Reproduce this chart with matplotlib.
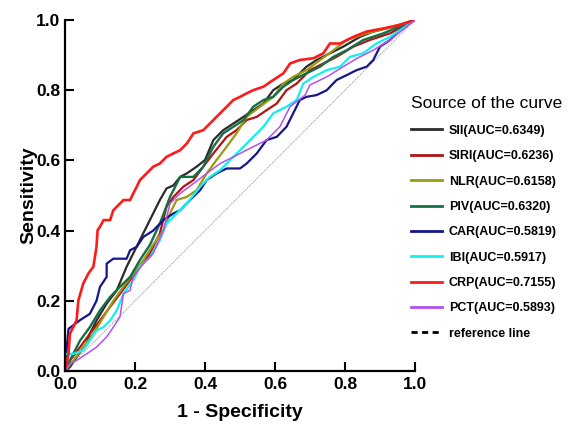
import matplotlib
matplotlib.use("Agg")
import matplotlib.pyplot as plt
from matplotlib.lines import Line2D

# ROC points (1 - specificity, sensitivity)
SII_FPR = [0, 0.014, 0.033, 0.062, 0.071, 0.09, 0.119, 0.148, 0.176, 0.195,
           0.214, 0.233, 0.252, 0.271, 0.29, 0.31, 0.329, 0.348, 0.376, 0.4,
           0.424, 0.452, 0.481, 0.51, 0.538, 0.567, 0.595, 0.624, 0.652, 0.69,
           0.719, 0.757, 0.795, 0.843, 0.881, 0.938, 1.0]
SII_TPR = [0, 0.011, 0.04, 0.078, 0.106, 0.144, 0.192, 0.23, 0.297, 0.335,
           0.373, 0.411, 0.449, 0.487, 0.52, 0.529, 0.553, 0.563, 0.582, 0.601,
           0.658, 0.686, 0.705, 0.724, 0.743, 0.762, 0.80, 0.819, 0.829, 0.867,
           0.886, 0.905, 0.924, 0.952, 0.967, 0.981, 1.0]

SIRI_FPR = [0, 0.014, 0.043, 0.071, 0.1, 0.129, 0.157, 0.186, 0.214, 0.243,
            0.271, 0.29, 0.31, 0.338, 0.367, 0.395, 0.424, 0.462, 0.49, 0.519,
            0.548, 0.576, 0.605, 0.633, 0.662, 0.7, 0.738, 0.776, 0.824, 0.871,
            0.929, 1.0]
SIRI_TPR = [0, 0.03, 0.068, 0.106, 0.144, 0.183, 0.22, 0.259, 0.297, 0.335,
            0.392, 0.468, 0.496, 0.525, 0.544, 0.582, 0.62, 0.667, 0.686, 0.715,
            0.724, 0.743, 0.762, 0.80, 0.819, 0.857, 0.876, 0.895, 0.924, 0.943,
            0.962, 1.0]

NLR_FPR = [0, 0.024, 0.052, 0.081, 0.11, 0.138, 0.167, 0.195, 0.224, 0.252,
           0.281, 0.3, 0.319, 0.348, 0.376, 0.405, 0.433, 0.462, 0.49, 0.519,
           0.557, 0.595, 0.624, 0.652, 0.69, 0.729, 0.767, 0.805, 0.862, 0.938,
           1.0]
NLR_TPR = [0, 0.03, 0.068, 0.106, 0.154, 0.2, 0.24, 0.278, 0.316, 0.36,
           0.40, 0.449, 0.487, 0.496, 0.515, 0.563, 0.601, 0.639, 0.677, 0.724,
           0.753, 0.781, 0.819, 0.838, 0.857, 0.886, 0.914, 0.943, 0.962, 0.981,
           1.0]

PIV_FPR = [0, 0.019, 0.043, 0.071, 0.1, 0.129, 0.157, 0.186, 0.214, 0.243,
           0.271, 0.3, 0.329, 0.367, 0.395, 0.424, 0.452, 0.481, 0.51, 0.538,
           0.567, 0.595, 0.624, 0.652, 0.69, 0.729, 0.767, 0.805, 0.852, 0.91,
           1.0]
PIV_TPR = [0, 0.04, 0.087, 0.125, 0.173, 0.211, 0.24, 0.268, 0.316, 0.36,
           0.42, 0.496, 0.553, 0.553, 0.582, 0.639, 0.677, 0.696, 0.715, 0.753,
           0.772, 0.781, 0.81, 0.829, 0.848, 0.867, 0.895, 0.914, 0.943, 0.962,
           1.0]

CAR_FPR = [0, 0.005, 0.01, 0.043, 0.071, 0.09, 0.1, 0.119, 0.119, 0.138,
           0.176, 0.186, 0.205, 0.224, 0.252, 0.281, 0.31, 0.329, 0.357, 0.386,
           0.405, 0.433, 0.462, 0.5, 0.519, 0.548, 0.576, 0.605, 0.633, 0.652,
           0.671, 0.69, 0.719, 0.748, 0.776, 0.805, 0.833, 0.862, 0.881, 0.9,
           0.929, 0.957, 1.0]
CAR_TPR = [0, 0.068, 0.12, 0.145, 0.163, 0.2, 0.24, 0.268, 0.306, 0.32,
           0.32, 0.344, 0.354, 0.382, 0.40, 0.43, 0.449, 0.458, 0.487, 0.515,
           0.544, 0.563, 0.577, 0.577, 0.591, 0.62, 0.658, 0.667, 0.696, 0.734,
           0.772, 0.781, 0.786, 0.80, 0.829, 0.843, 0.857, 0.867, 0.886, 0.924,
           0.943, 0.971, 1.0]

IBI_FPR = [0, 0, 0.024, 0.052, 0.071, 0.09, 0.11, 0.129, 0.148, 0.167,
           0.195, 0.214, 0.243, 0.271, 0.29, 0.319, 0.348, 0.386, 0.414, 0.443,
           0.481, 0.51, 0.538, 0.567, 0.595, 0.633, 0.662, 0.681, 0.71, 0.748,
           0.786, 0.814, 0.852, 0.89, 0.929, 1.0]
IBI_TPR = [0, 0.049, 0.049, 0.059, 0.087, 0.116, 0.125, 0.144, 0.173, 0.22,
           0.259, 0.297, 0.325, 0.373, 0.42, 0.449, 0.477, 0.525, 0.553, 0.572,
           0.61, 0.639, 0.667, 0.696, 0.734, 0.753, 0.772, 0.819, 0.838, 0.857,
           0.867, 0.895, 0.905, 0.933, 0.952, 1.0]

CRP_FPR = [0, 0.01, 0.014, 0.033, 0.038, 0.052, 0.067, 0.081, 0.090, 0.093,
           0.10, 0.11, 0.129, 0.138, 0.148, 0.167, 0.186, 0.195, 0.205, 0.214,
           0.233, 0.252, 0.271, 0.29, 0.31, 0.329, 0.348, 0.367, 0.395, 0.414,
           0.443, 0.462, 0.481, 0.5, 0.519, 0.538, 0.567, 0.595, 0.624, 0.643,
           0.671, 0.71, 0.738, 0.757, 0.786, 0.824, 0.862, 0.91, 0.957, 1.0]
CRP_TPR = [0, 0.049, 0.106, 0.144, 0.2, 0.249, 0.278, 0.297, 0.354, 0.401,
           0.411, 0.43, 0.43, 0.458, 0.468, 0.487, 0.487, 0.506, 0.525, 0.544,
           0.563, 0.582, 0.591, 0.61, 0.62, 0.629, 0.648, 0.677, 0.686, 0.705,
           0.734, 0.753, 0.772, 0.781, 0.791, 0.80, 0.81, 0.829, 0.848, 0.876,
           0.886, 0.891, 0.905, 0.933, 0.933, 0.952, 0.967, 0.976, 0.986, 1.0]

PCT_FPR = [0, 0.014, 0.033, 0.062, 0.09, 0.1, 0.119, 0.138, 0.157, 0.167,
           0.186, 0.195, 0.224, 0.252, 0.281, 0.3, 0.329, 0.367, 0.405, 0.443,
           0.481, 0.538, 0.576, 0.614, 0.643, 0.686, 0.7, 0.748, 0.795, 0.833,
           0.881, 0.929, 1.0]
PCT_TPR = [0, 0.021, 0.03, 0.049, 0.068, 0.078, 0.097, 0.125, 0.154, 0.22,
           0.23, 0.268, 0.306, 0.335, 0.401, 0.477, 0.506, 0.534, 0.563, 0.591,
           0.61, 0.639, 0.658, 0.696, 0.753, 0.786, 0.815, 0.838, 0.867, 0.89,
           0.914, 0.943, 1.0]

LABELS = ["SII(AUC=0.6349)", "SIRI(AUC=0.6236)", "NLR(AUC=0.6158)",
          "PIV(AUC=0.6320)", "CAR(AUC=0.5819)", "IBI(AUC=0.5917)",
          "CRP(AUC=0.7155)", "PCT(AUC=0.5893)"]
COLORS = ["#2b2b2b", "#b01414", "#9c9a10", "#137045",
          "#15158c", "#12f0f0", "#ff1a1a", "#b450f0"]
WIDTHS = [1.6, 1.6, 1.6, 1.7, 1.6, 1.6, 1.9, 1.1]
TICKS = [0.0, 0.2, 0.4, 0.6, 0.8, 1.0]

plt.rcParams["font.family"] = ["Liberation Sans", "DejaVu Sans"]

fig = plt.figure(figsize=(5.82, 4.25), dpi=100)
ax = fig.add_axes([0.1117, 0.127, 0.6013, 0.826])

curves = [(SII_FPR, SII_TPR), (SIRI_FPR, SIRI_TPR), (NLR_FPR, NLR_TPR),
          (PIV_FPR, PIV_TPR), (CAR_FPR, CAR_TPR), (IBI_FPR, IBI_TPR),
          (CRP_FPR, CRP_TPR), (PCT_FPR, PCT_TPR)]

# diagonal reference line
ax.plot([0, 1], [0, 1], color="#9a9a9a", linestyle=(0, (1, 1)), linewidth=0.8, zorder=1)

handles = []
for (fpr, tpr), label, color, lw in zip(curves, LABELS, COLORS, WIDTHS):
    ax.plot(fpr, tpr, color=color, linewidth=lw, zorder=2)
    handles.append(Line2D([], [], color=color, linewidth=2.0, label=label))
handles.append(Line2D([], [], color="black", linewidth=2.0, linestyle=(0, (2.2, 1.6)),
                      label="reference line"))

ax.set_xlim(0, 1)
ax.set_ylim(0, 1)
ax.set_xticks(TICKS)
ax.set_yticks(TICKS)
ax.set_xticklabels([f"{t:.1f}" for t in TICKS], fontsize=12.5, fontweight="bold")
ax.set_yticklabels([f"{t:.1f}" for t in TICKS], fontsize=12.5, fontweight="bold")
ax.tick_params(direction="in", length=6.5, width=1.5)
ax.tick_params(axis="x", pad=4)
ax.tick_params(axis="y", pad=3.5)
for side in ["top", "right"]:
    ax.spines[side].set_visible(False)
for side in ["left", "bottom"]:
    ax.spines[side].set_linewidth(1.6)
ax.set_xlabel("1 - Specificity", fontsize=14, fontweight="bold", labelpad=9)
ax.set_ylabel("Sensitivity", fontsize=14, fontweight="bold", labelpad=-1)

leg = fig.legend(handles=handles, loc="upper left", bbox_to_anchor=(0.698, 0.785),
                 frameon=False, title="Source of the curve",
                 prop={"size": 9, "weight": "bold"}, title_fontsize=12.5,
                 handlelength=2.5, handletextpad=0.5, labelspacing=1.07,
                 alignment="left", borderaxespad=0)

fig.savefig("out.png", dpi=100)
